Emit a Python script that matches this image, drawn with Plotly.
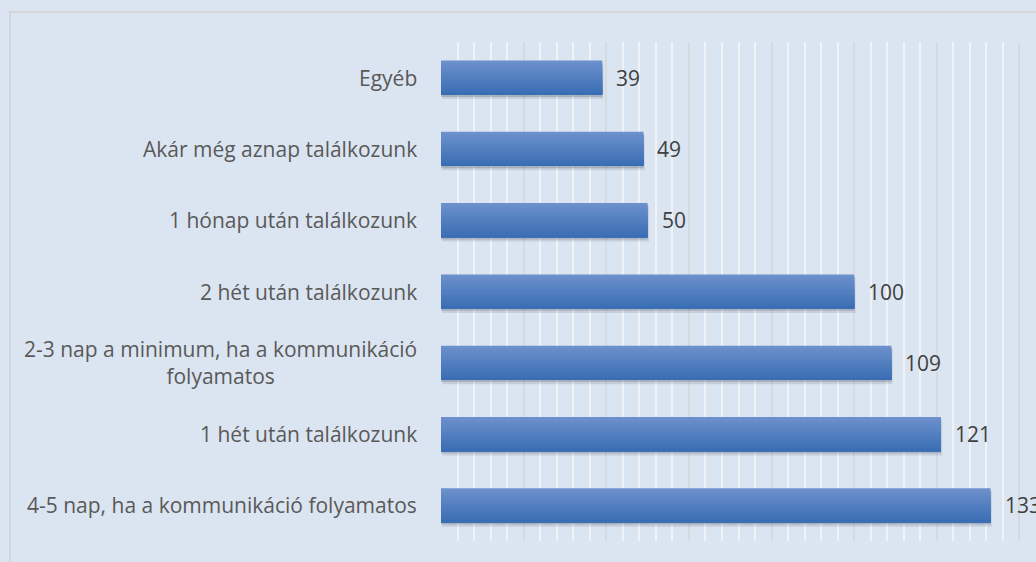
import plotly.graph_objects as go

categories = [
    "Egyéb",
    "Akár még aznap találkozunk",
    "1 hónap után találkozunk",
    "2 hét után találkozunk",
    "2-3 nap a minimum, ha a kommunikáció<br>folyamatos",
    "1 hét után találkozunk",
    "4-5 nap, ha a kommunikáció folyamatos",
]
values = [39, 49, 50, 100, 109, 121, 133]

BG = "#dbe5f1"
FONT = "Open Sans"
BAR_W = 0.48
TOP_RGB = (108, 144, 203)
BOT_RGB = (58, 110, 180)
N_STRIPS = 14

fig = go.Figure()

# soft shadow under bars (two layers for blur)
fig.add_trace(go.Bar(
    y=categories, x=values, orientation="h",
    marker=dict(color="rgba(40,50,70,0.12)", line=dict(width=0)),
    width=BAR_W + 0.02, offset=-BAR_W / 2 + 0.04, base=0.3,
    hoverinfo="skip", showlegend=False,
))
fig.add_trace(go.Bar(
    y=categories, x=values, orientation="h",
    marker=dict(color="rgba(40,50,70,0.2)", line=dict(width=0)),
    width=BAR_W, offset=-BAR_W / 2 + 0.03, base=0,
    hoverinfo="skip", showlegend=False,
))

# bars with vertical gradient (light on top); each layer runs to the bar's
# bottom edge and later layers cover the lower part, so there are no seams
sw = BAR_W / N_STRIPS
for i in range(N_STRIPS):
    t = i / (N_STRIPS - 1)
    col = "rgb(%d,%d,%d)" % tuple(
        round(a + (b - a) * t) for a, b in zip(TOP_RGB, BOT_RGB)
    )
    fig.add_trace(go.Bar(
        y=categories, x=values, orientation="h",
        marker=dict(color=col, line=dict(width=0)),
        width=BAR_W - i * sw, offset=-BAR_W / 2 + i * sw,
        showlegend=False, hoverinfo="x+y" if i == 0 else "skip",
    ))

annotations = []
for c, v in zip(categories, values):
    annotations.append(dict(
        x=0, y=c, xref="x", yref="y", text=c, showarrow=False,
        xanchor="right", yanchor="middle", align="center", xshift=-22,
        font=dict(family=FONT, size=21, color="#595959"),
    ))
    annotations.append(dict(
        x=v, y=c, xref="x", yref="y", text=str(v), showarrow=False,
        xanchor="left", yanchor="middle", xshift=12,
        font=dict(family=FONT, size=21, color="#404040"),
    ))

fig.update_layout(
    width=1036, height=562,
    margin=dict(l=441, r=0, t=42, b=21),
    paper_bgcolor=BG, plot_bgcolor=BG,
    barmode="overlay",
    annotations=annotations,
    xaxis=dict(
        range=[0, 144], showticklabels=False, zeroline=False,
        showgrid=True, dtick=20, gridcolor="#d6d9de", gridwidth=1.5,
        minor=dict(dtick=4, showgrid=True, gridcolor="#f0f2f5", gridwidth=1.5),
        showline=False, fixedrange=True,
    ),
    yaxis=dict(
        autorange="reversed", showticklabels=False, showgrid=False,
        showline=False, zeroline=False, fixedrange=True,
    ),
    shapes=[
        dict(type="rect", xref="paper", yref="paper",
             x0=-0.7244, x1=1.2, y0=-0.3, y1=1.0601,
             line=dict(color="#d4d6d8", width=2), layer="below"),
    ],
)

fig.write_html(
    "out.html",
    config={"displayModeBar": False},
    post_script=(
        "document.body.style.margin='0';"
        "document.body.style.overflow='hidden';"
        "document.body.style.background='" + BG + "';"
    ),
)
